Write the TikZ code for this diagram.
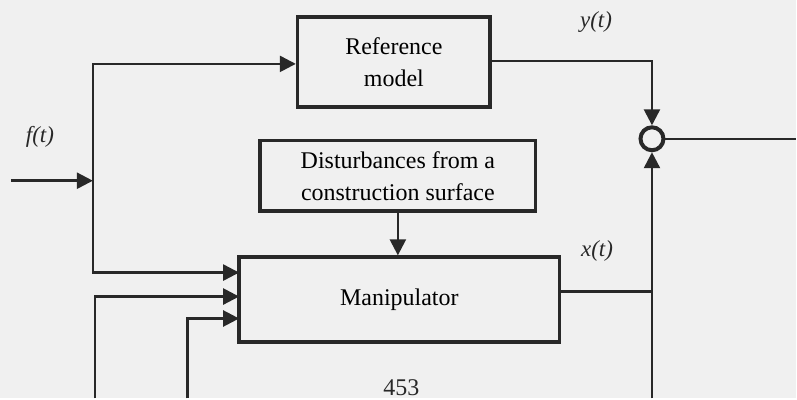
\documentclass[tikz,border=0pt]{standalone}
\usepackage{fontspec}
\setmainfont{Liberation Serif}
\usepackage{tikz}
\usetikzlibrary{arrows.meta,calc}
\definecolor{Ink}{RGB}{40,40,40}
\definecolor{Paper}{RGB}{240,240,240}

\tikzset{
    block/.style={draw=Ink, line width=3.5pt, rectangle, align=center, inner sep=0pt,
        font=\fontsize{24}{32}\selectfont},
    wire/.style={draw=Ink, line width=2.5pt},
    sig/.style={font=\fontsize{23}{28}\selectfont\itshape, text=Ink}
}

\begin{document}
\begin{tikzpicture}[x=1pt, y=-1pt, >={Triangle[length=16pt,width=16pt]}]
    % Background
    \fill[Paper] (0,0) rectangle (797,399);

    % Blocks
    \node[block, minimum width=193pt, minimum height=90pt] (refmodel) at (394.5,62) {Reference\\model};
    \node[block, minimum width=276pt, minimum height=71pt] (dist) at (398.5,176) {Disturbances from a\\construction surface};
    \node[block, minimum width=321pt, minimum height=85pt] (manip) at (400,300) {Manipulator};
    \node[draw=Ink, line width=4pt, circle, minimum size=23pt, inner sep=0pt] (sum) at (653,139) {};

    % Input f(t) and its split
    \coordinate (fin) at (11,181);
    \coordinate (split) at (93,181);
    \coordinate (in1) at (239.5,273);
    \coordinate (in2) at (239.5,297);
    \coordinate (in3) at (239.5,319);
    \draw[wire, ->] (fin) -- (split);
    \draw[wire, ->] (split) |- (refmodel.west |- 0,64);
    \draw[wire, ->] (split) |- (in1);
    \node[sig] (flabel) at (40,137) {f(t)};

    % Feedback inputs from below
    \coordinate (fb2) at (95,399);
    \coordinate (fb3) at (188,399);
    \draw[wire, ->] (fb2) |- (in2);
    \draw[wire, ->] (fb3) |- (in3);

    % Disturbances into the manipulator
    \draw[wire, ->] (dist.south) -- (dist.south |- manip.north);

    % Reference model output y(t)
    \draw[wire, ->] (refmodel.east |- 0,61) -| (sum.north);
    \node[sig] (ylabel) at (597,22) {y(t)};

    % Manipulator output x(t)
    \coordinate (xout) at (560.5,292);
    \coordinate (xjoin) at (653,292);
    \coordinate (bottom) at (653,399);
    \draw[wire] (xout) -- (xjoin);
    \draw[wire, ->] (bottom) -- (sum.south);
    \node[sig] (xlabel) at (598,251) {x(t)};

    % Error output
    \coordinate (eout) at (797,139);
    \draw[wire] (sum.east) -- (eout);

    % Page number
    \node[font=\fontsize{24}{28}\selectfont, text=Ink, inner sep=0pt, anchor=base] (page) at (402,396) {453};
\end{tikzpicture}
\end{document}
